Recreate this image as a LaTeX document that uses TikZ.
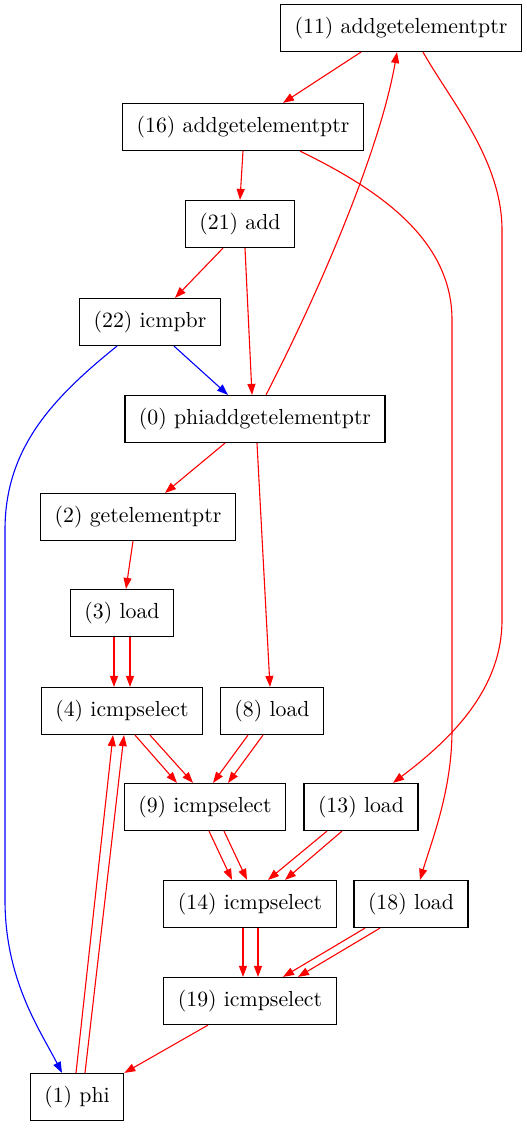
\documentclass[tikz,border=0pt]{standalone}
\usepackage{tikz}
\usetikzlibrary{arrows.meta}

\tikzset{
  op/.style={draw, rectangle, line width=0.6pt, minimum height=23.5pt, inner xsep=7pt, font=\fontsize{10.9}{13}\selectfont},
  dep/.style={red, line width=0.55pt, -{Triangle[length=5.5pt,width=4pt]}},
  ctl/.style={blue, line width=0.55pt, -{Triangle[length=5.5pt,width=4pt]}}
}

\begin{document}
\begin{tikzpicture}[x=0.5pt, y=-0.5pt]
  \useasboundingbox (0,0) rectangle (526,1131);
  \node[op] (n11) at (401,28)   {(11) addgetelementptr};
  \node[op] (n16) at (243,127)  {(16) addgetelementptr};
  \node[op] (n21) at (240,224)  {(21) add};
  \node[op] (n22) at (150,322)  {(22) icmpbr};
  \node[op] (n0)  at (255,419)  {(0) phiaddgetelementptr};
  \node[op] (n2)  at (138,517)  {(2) getelementptr};
  \node[op] (n3)  at (122,613)  {(3) load};
  \node[op] (n4)  at (122,711)  {(4) icmpselect};
  \node[op] (n8)  at (272,711)  {(8) load};
  \node[op] (n9)  at (205,807)  {(9) icmpselect};
  \node[op] (n13) at (361,807)  {(13) load};
  \node[op] (n14) at (250,904)  {(14) icmpselect};
  \node[op] (n18) at (411,904)  {(18) load};
  \node[op] (n19) at (250,1001) {(19) icmpselect};
  \node[op] (n1)  at (77,1097)  {(1) phi};

  \draw[dep] ([xshift=-20pt]n11.south) -- ([xshift=20pt]n16.north);
  \draw[dep] (n16.south) -- (n21.north);
  \draw[dep] ([xshift=-8.5pt]n21.south) -- ([xshift=12.5pt]n22.north);
  \draw[dep] ([xshift=2.5pt]n21.south) -- ([xshift=-1.5pt]n0.north);
  \draw[ctl] ([xshift=12pt]n22.south) -- ([xshift=-13.5pt]n0.north);
  \draw[dep] ([xshift=5.5pt]n0.north) .. controls (320,290) and (380,150) .. ([xshift=-2pt]n11.south);
  \draw[dep] ([xshift=11pt]n11.south) .. controls (450,100) and (502,160) .. (502,230)
    -- (502,620) .. controls (502,690) and (450,740) .. ([xshift=16pt]n13.north);
  \draw[dep] ([xshift=28.5pt]n16.south) .. controls (380,190) and (452,240) .. (452,320)
    -- (452,730) .. controls (452,790) and (432,840) .. ([xshift=4.5pt]n18.north);
  \draw[ctl] ([xshift=-16.5pt]n22.south) .. controls (50,400) and (5,450) .. (5,530)
    -- (5,900) .. controls (5,980) and (40,1030) .. ([xshift=-7.5pt]n1.north);
  \draw[dep] ([xshift=-15pt]n0.south) -- ([xshift=13.5pt]n2.north);
  \draw[dep] ([xshift=1pt]n0.south) -- ([xshift=-1pt]n8.north);
  \draw[dep] ([xshift=-2.5pt]n2.south) -- ([xshift=2pt]n3.north);
  \foreach \s in {-4,4} {
    \draw[dep] ([xshift=\s pt]n3.south) -- ([xshift=\s pt]n4.north);
  }
  \foreach \s/\t in {6.5/-14, 14/-6} {
    \draw[dep] ([xshift=\s pt]n4.south) -- ([xshift=\t pt]n9.north);
  }
  \foreach \s/\t in {-12/4, -4.5/11.5} {
    \draw[dep] ([xshift=\s pt]n8.south) -- ([xshift=\t pt]n9.north);
  }
  \foreach \s/\t in {2/-9, 9.5/-1.5} {
    \draw[dep] ([xshift=\s pt]n9.south) -- ([xshift=\t pt]n14.north);
  }
  \foreach \s/\t in {-17/9, -9.5/17.5} {
    \draw[dep] ([xshift=\s pt]n13.south) -- ([xshift=\t pt]n14.north);
  }
  \foreach \s in {-3.5,4} {
    \draw[dep] ([xshift=\s pt]n14.south) -- ([xshift=\s pt]n19.north);
  }
  \foreach \s/\t in {-23/16.5, -15.5/24} {
    \draw[dep] ([xshift=\s pt]n18.south) -- ([xshift=\t pt]n19.north);
  }
  \draw[dep] ([xshift=-21pt]n19.south) -- (n1.north east);
  \foreach \s/\t in {-0.5/-4.5, 4/1} {
    \draw[dep] ([xshift=\s pt]n1.north) -- ([xshift=\t pt]n4.south);
  }
\end{tikzpicture}
\end{document}
